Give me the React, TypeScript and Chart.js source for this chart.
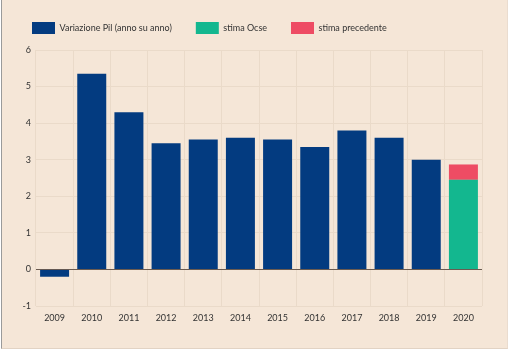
import React, { useEffect, useRef } from "react";
import { Chart, registerables } from "chart.js";

Chart.register(...registerables);

const years = ["2009", "2010", "2011", "2012", "2013", "2014", "2015", "2016", "2017", "2018", "2019", "2020"];
const gdpGrowth = [-0.2, 5.35, 4.3, 3.45, 3.55, 3.6, 3.55, 3.35, 3.8, 3.6, 3.0, null];
const oecdEstimate = [null, null, null, null, null, null, null, null, null, null, null, 2.45];
const previousEstimate = [null, null, null, null, null, null, null, null, null, null, null, 0.42];
const seriesNames = ["Variazione Pil (anno su anno)", "stima Ocse", "stima precedente"];

const BG = "#f5e6d7";
const GRID = "#eadac9";
const ZERO = "#6b5b50";
const TEXT = "#333333";

const legendSpacer = {
  id: "legendSpacer",
  afterInit(chart: any) {
    const lg = chart.legend;
    if (!lg) return;
    const orig = lg.fit.bind(lg);
    lg.fit = function () {
      orig();
      this.height += 6;
    };
  },
};

export default function App() {
  const ref = useRef<HTMLCanvasElement>(null);

  useEffect(() => {
    document.body.style.margin = "0";
    document.body.style.background = "#ffffff";
    const ctx = ref.current!.getContext("2d")!;
    Chart.defaults.font.family = "Lato";
    const chart = new Chart(ctx, {
      type: "bar",
      data: {
        labels: years,
        datasets: [
          { label: seriesNames[0], data: gdpGrowth, backgroundColor: "#033b80" },
          { label: seriesNames[1], data: oecdEstimate, backgroundColor: "#13b78f" },
          { label: seriesNames[2], data: previousEstimate, backgroundColor: "#ee4c64" },
        ],
      },
      plugins: [legendSpacer],
      options: {
        animation: false,
        responsive: false,
        maintainAspectRatio: false,
        layout: { padding: { left: 8, right: 27, top: -2, bottom: 16 } },
        datasets: { bar: { categoryPercentage: 0.8, barPercentage: 0.975 } },
        plugins: {
          tooltip: { enabled: false },
          legend: {
            position: "top",
            align: "start",
            labels: {
              boxWidth: 23,
              boxHeight: 12,
              padding: 24,
              color: TEXT,
              font: { size: 9, family: "Lato" },
            },
          },
        },
        scales: {
          x: {
            stacked: true,
            grid: { color: GRID, drawTicks: false, offset: true },
            border: { display: false },
            ticks: { color: TEXT, font: { size: 9, family: "Lato" }, padding: 7 },
            afterFit: (s: any) => { s.height = 30; },
          },
          y: {
            stacked: true,
            min: -1,
            max: 6,
            grid: {
              drawTicks: false,
              color: (c: any) => (c.tick && c.tick.value === 0 ? ZERO : GRID),
            },
            border: { display: false },
            ticks: { stepSize: 1, color: TEXT, font: { size: 9, family: "Lato" }, padding: 5 },
            afterFit: (s: any) => { s.width = 28; },
          },
        },
      },
    });
    return () => chart.destroy();
  }, []);

  return (
    <div style={{ position: "relative", width: 509, height: 352, background: "#ffffff" }}>
      <div
        style={{
          position: "absolute",
          left: 1,
          top: 0,
          width: 505,
          height: 348,
          background: BG,
          borderLeft: "1px solid #9a9a9a",
          borderRight: "1px solid #eadccf",
          borderBottom: "1px solid #e2d3c4",
        }}
      />
      <canvas ref={ref} width={509} height={352} style={{ position: "absolute", left: 0, top: 0 }} />
    </div>
  );
}
